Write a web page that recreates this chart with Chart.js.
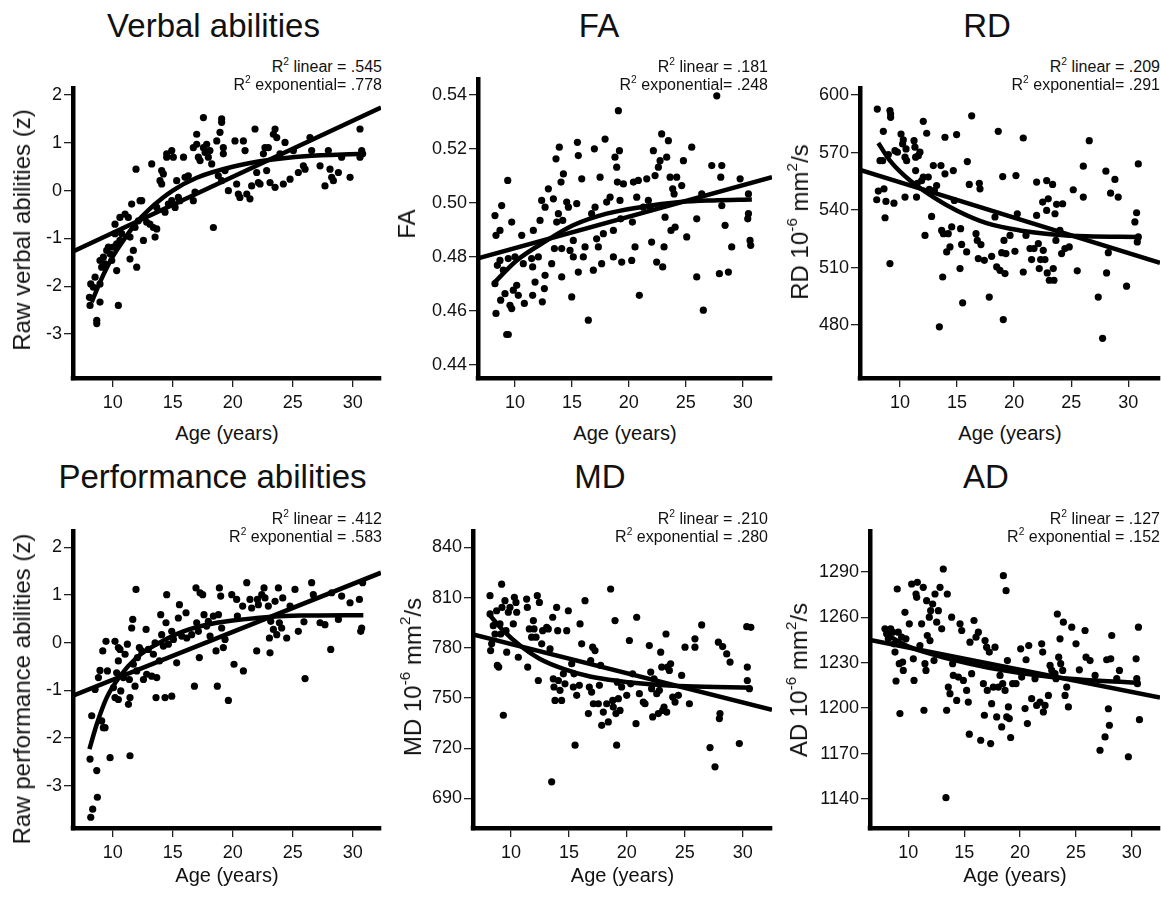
<!DOCTYPE html>
<html>
<head>
<meta charset="utf-8">
<script src="https://cdn.jsdelivr.net/npm/chart.js@4.4.0/dist/chart.umd.min.js"></script>
<style>
body { margin: 0; background: #fff; }
#fig { position: relative; width: 1161px; height: 898px; overflow: hidden; font-family: "Liberation Sans", Arial, sans-serif; color: #111; }
#fig canvas { position: absolute; }
.t { position: absolute; white-space: nowrap; line-height: 1; }
.t sup { font-size: 0.64em; vertical-align: baseline; position: relative; top: -0.7em; line-height: 0; }
</style>
</head>
<body>
<div id="fig"></div>
<script>
// tick labels
var ageTicks = [10, 15, 20, 25, 30];
var verbalTicks = [-3, -2, -1, 0, 1, 2];
var perfTicks = [-3, -2, -1, 0, 1, 2];
var faTicks = [0.44, 0.46, 0.48, 0.50, 0.52, 0.54];
var rdTicks = [480, 510, 540, 570, 600];
var mdTicks = [690, 720, 750, 780, 810, 840];
var adTicks = [1140, 1170, 1200, 1230, 1260, 1290];

// [age, value] per subject
var verbalPts = [[8.11,-2.40],[8.06,-2.23],[8.17,-1.95],[8.53,-1.81],[8.39,-2.02],[8.67,-2.71],[8.67,-2.78],[8.94,-2.33],[8.94,-1.95],[9.08,-1.60],[8.94,-1.46],[9.22,-1.39],[9.36,-1.53],[9.5,-1.25],[9.64,-1.18],[9.78,-1.32],[9.92,-1.46],[10.05,-1.18],[10.19,-0.90],[10.19,-0.70],[10.33,-1.11],[10.33,-1.67],[10.47,-2.40],[10.6,-1.04],[10.6,-0.56],[10.75,-0.90],[11.03,-0.49],[11.3,-0.56],[11.44,-0.97],[11.44,-1.43],[11.58,-0.28],[11.72,-1.25],[11.86,-0.77],[12.0,-1.60],[11.94,0.45],[12.14,-0.63],[12.28,-0.21],[12.42,-0.21],[12.56,-1.04],[12.83,-0.66],[13.1,-0.70],[13.25,0.56],[13.39,-0.77],[13.53,-0.97],[13.67,-0.35],[13.67,-0.80],[13.94,0.21],[14.08,0.42],[14.08,0.14],[14.22,0.35],[14.36,-0.45],[14.5,0.77],[14.5,0.70],[14.64,-0.28],[14.92,0.84],[14.92,-0.21],[15.05,0.70],[15.2,-0.35],[15.33,0.21],[15.47,-0.14],[15.6,-0.21],[15.9,0.70],[16.03,0.28],[16.3,0.31],[16.72,-0.21],[16.72,0.90],[16.86,-0.03],[17.0,1.18],[17.0,0.97],[17.14,0.70],[17.28,0.63],[17.56,1.53],[17.56,0.90],[17.7,0.80],[17.83,0.97],[17.97,0.70],[18.1,0.84],[18.25,0.56],[18.39,-0.77],[18.67,1.04],[18.8,0.31],[18.94,1.22],[19.08,1.50],[19.08,1.43],[19.22,0.90],[19.22,0.77],[19.36,0.42],[19.08,0.21],[19.64,0.0],[20.19,1.04],[20.33,0.14],[20.47,-0.07],[20.6,-0.14],[20.89,1.04],[21.03,0.84],[21.17,-0.07],[21.44,-0.17],[21.58,0.10],[21.86,1.29],[22.0,0.38],[22.14,0.17],[22.28,0.14],[22.56,0.77],[22.69,0.90],[22.83,0.42],[22.97,0.90],[23.11,0.17],[23.39,1.18],[23.53,1.29],[23.53,0.07],[23.67,1.11],[23.94,0.77],[24.22,0.14],[24.36,1.01],[24.78,0.24],[25.06,0.84],[25.47,0.38],[25.89,0.52],[26.03,0.45],[26.44,1.11],[26.58,0.84],[27.28,0.52],[27.69,0.10],[27.97,0.84],[28.11,0.45],[28.25,0.28],[28.39,0.21],[28.81,0.38],[29.08,0.70],[29.78,0.28],[30.61,1.29],[30.75,0.84],[30.61,0.70],[30.83,0.77]];
var verbalLin = [[6.69,-1.27],[32.36,1.74]];
var verbalExp = [[8.25,-2.33],[9,-1.88],[10,-1.38],[11,-1.0],[12,-0.66],[13,-0.40],[15,0.0],[17,0.27],[20,0.50],[23,0.64],[26,0.72],[30.8,0.77]];

var faPts = [[8.24,0.4953],[8.33,0.4880],[8.45,0.4769],[8.24,0.4701],[8.33,0.4591],[8.68,0.4898],[8.83,0.4990],[8.68,0.4787],[8.74,0.4640],[8.98,0.4751],[9.12,0.4664],[9.27,0.4513],[9.41,0.4513],[9.36,0.5083],[9.41,0.4794],[9.56,0.4621],[9.71,0.4929],[9.71,0.4609],[9.85,0.4677],[10.0,0.4800],[10.15,0.4695],[10.29,0.4658],[10.59,0.4880],[10.73,0.4775],[10.82,0.4628],[11.46,0.4794],[11.55,0.4763],[11.55,0.4658],[11.61,0.4898],[11.76,0.4707],[12.05,0.4800],[12.2,0.4935],[12.34,0.5009],[12.40,0.4634],[12.58,0.4683],[12.64,0.4732],[12.64,0.4984],[12.93,0.5052],[13.22,0.4775],[13.37,0.5015],[13.46,0.4831],[13.6,0.5163],[13.66,0.4929],[13.81,0.4960],[13.89,0.5206],[14.04,0.5077],[14.1,0.4831],[14.1,0.4726],[14.19,0.4935],[14.25,0.5107],[14.54,0.5003],[14.69,0.4984],[14.83,0.4824],[14.98,0.4652],[15.12,0.4861],[15.12,0.4800],[15.42,0.4997],[15.48,0.5224],[15.56,0.5175],[15.56,0.4744],[15.86,0.5089],[16.0,0.4800],[16.15,0.4837],[16.44,0.4566],[16.73,0.4960],[16.88,0.4751],[16.97,0.5200],[17.03,0.4984],[17.17,0.4867],[17.32,0.4837],[17.47,0.5095],[17.61,0.4775],[17.76,0.4886],[17.91,0.5236],[18.05,0.5003],[18.35,0.5021],[18.64,0.4800],[18.64,0.4898],[18.78,0.5169],[18.93,0.5132],[18.99,0.5077],[19.08,0.5341],[19.17,0.5193],[19.22,0.5009],[19.28,0.4941],[19.37,0.4781],[19.52,0.5070],[20.25,0.4787],[20.31,0.4929],[20.4,0.5077],[20.54,0.4837],[20.69,0.5021],[20.83,0.5083],[20.92,0.4658],[21.27,0.4984],[21.57,0.5089],[21.71,0.5009],[21.86,0.4984],[22.0,0.4855],[22.15,0.5193],[22.3,0.5101],[22.44,0.4781],[22.59,0.5132],[22.74,0.5156],[22.88,0.5255],[22.97,0.4763],[23.09,0.4837],[23.18,0.4947],[23.32,0.5169],[23.47,0.5230],[23.62,0.5095],[23.7,0.4898],[23.85,0.5052],[23.97,0.5033],[24.06,0.4910],[24.2,0.5095],[24.64,0.5064],[24.79,0.5156],[25.08,0.4874],[25.52,0.5206],[25.96,0.4941],[25.96,0.4726],[26.4,0.5033],[26.54,0.4603],[27.28,0.5138],[27.72,0.5396],[27.95,0.4738],[28.16,0.5138],[28.07,0.5095],[28.16,0.4990],[28.45,0.4917],[28.74,0.4744],[29.03,0.4837],[29.77,0.5089],[30.5,0.5033],[30.44,0.4941],[30.5,0.4960],[30.64,0.4861],[30.7,0.4843]];
var faLin = [[6.75,0.4795],[32.57,0.5095]];
var faExp = [[8.1,0.4701],[10.15,0.4787],[12.8,0.4861],[15.1,0.4917],[18.05,0.4960],[21,0.4984],[24.5,0.5003],[27.4,0.5009],[30.8,0.5012]];

var rdPts = [[8.01,592.7],[7.96,545.4],[8.1,549.9],[8.25,565.8],[8.48,565.8],[8.54,581.1],[8.6,551.1],[8.69,536.0],[8.77,544.5],[8.98,569.0],[9.12,512.1],[9.12,591.9],[9.18,590.1],[9.18,588.4],[9.47,543.6],[9.56,571.0],[9.77,570.2],[10.09,579.7],[10.23,574.5],[10.29,576.6],[10.44,546.8],[10.44,567.6],[10.53,571.9],[10.58,565.8],[11.23,576.2],[11.31,572.8],[11.37,567.6],[11.37,560.6],[11.45,546.8],[11.52,554.0],[11.61,568.4],[11.75,570.2],[11.9,555.4],[12.04,586.3],[12.04,557.2],[12.19,526.8],[12.34,580.1],[12.48,557.2],[12.57,550.8],[12.77,536.7],[12.92,563.2],[13.01,550.2],[13.21,552.8],[13.45,479.1],[13.59,563.2],[13.65,529.4],[13.74,505.1],[13.8,527.7],[13.94,578.0],[13.94,558.9],[14.09,518.2],[14.23,527.7],[14.38,520.8],[14.53,531.2],[14.67,560.6],[14.76,545.0],[14.96,579.4],[15.26,509.5],[15.31,530.3],[15.4,522.1],[15.49,491.6],[15.84,518.2],[15.9,565.3],[16.07,553.4],[16.28,589.2],[16.66,527.7],[16.77,524.2],[16.86,514.7],[16.95,554.0],[17.01,551.1],[17.09,522.0],[17.39,513.8],[17.82,494.6],[18.03,515.9],[18.32,536.4],[18.47,510.4],[18.61,581.1],[18.76,508.6],[18.91,517.8],[19.0,557.5],[19.05,482.9],[19.11,524.2],[19.2,506.9],[19.28,517.3],[19.64,526.8],[20.07,518.5],[20.16,558.0],[20.28,538.1],[20.8,577.6],[20.8,507.7],[21.04,526.8],[21.39,519.9],[21.53,514.2],[21.74,519.9],[21.97,537.2],[21.97,554.6],[22.12,522.5],[22.2,509.5],[22.32,514.2],[22.5,544.2],[22.55,519.0],[22.7,514.2],[22.85,555.4],[22.85,539.8],[22.9,507.2],[22.99,545.9],[23.08,503.4],[23.37,553.4],[23.43,509.5],[23.49,503.4],[23.58,538.1],[23.66,524.2],[23.72,543.0],[24.01,529.4],[24.16,517.3],[24.25,543.3],[24.45,519.9],[24.83,520.8],[25.18,550.6],[25.53,508.3],[26.06,546.8],[26.06,562.9],[26.58,576.2],[27.37,494.6],[27.75,473.1],[28.04,560.3],[28.1,507.2],[28.25,517.8],[28.45,548.8],[28.83,556.0],[29.12,546.8],[29.85,500.3],[30.58,533.8],[30.73,538.6],[30.88,564.1],[30.79,523.4],[30.88,526.0]];
var rdLin = [[6.5,561],[32.78,512.5]];
var rdExp = [[8.1,575],[9.12,565.8],[10.88,555.4],[12.92,546.8],[14.96,539.8],[17.59,533.2],[20.5,529.4],[23.43,527.3],[26.35,526.3],[30.8,526.0]];

var perfPts = [[8.17,-3.66],[8.33,-3.49],[8.11,-2.44],[8.25,-1.53],[8.53,-0.98],[8.67,-2.68],[8.72,-3.24],[8.81,-0.73],[8.94,-0.58],[9.08,-1.64],[9.17,-0.17],[9.22,-1.78],[9.36,-1.78],[9.44,0.03],[9.56,-0.59],[9.78,-2.41],[10.06,-0.94],[10.19,0.03],[10.19,-1.15],[10.33,-0.63],[10.47,-0.10],[10.47,-0.38],[10.47,-1.19],[10.61,-0.14],[10.67,-1.01],[10.89,-0.73],[11.03,-0.24],[11.22,-0.03],[11.31,-1.29],[11.39,-0.77],[11.44,-2.37],[11.44,-1.15],[11.58,0.31],[11.67,0.49],[11.72,-0.45],[11.86,-0.91],[11.94,1.12],[12.0,-0.59],[12.06,-0.31],[12.22,-0.10],[12.42,-0.17],[12.56,-0.77],[12.78,0.28],[12.83,-0.66],[12.97,-0.14],[13.25,-0.70],[13.39,-0.24],[13.53,0.0],[13.61,-1.15],[13.67,-0.73],[13.89,-0.38],[14.0,0.59],[14.08,0.17],[14.22,-0.07],[14.36,-1.15],[14.44,0.42],[14.5,1.01],[14.64,-0.03],[14.92,-1.12],[14.92,0.24],[15.06,0.07],[15.33,-0.42],[15.47,0.52],[15.56,0.80],[15.75,0.14],[16.11,0.63],[16.17,0.10],[16.58,0.17],[16.81,-0.91],[16.94,1.15],[17.0,0.42],[17.14,0.24],[17.22,-0.31],[17.28,1.05],[17.5,1.01],[17.61,0.59],[17.83,0.35],[17.97,0.45],[18.11,0.14],[18.39,0.56],[18.61,-0.17],[18.72,-0.91],[18.81,0.59],[18.89,1.15],[19.0,0.98],[19.08,0.31],[19.22,-0.10],[19.36,0.07],[19.64,-1.21],[19.92,1.01],[20.11,-0.45],[20.33,0.91],[20.39,0.56],[20.89,-0.59],[20.83,0.77],[21.17,1.26],[21.44,0.91],[21.58,0.73],[22.0,-0.17],[22.06,0.91],[22.14,0.80],[22.42,1.01],[22.61,1.15],[22.69,0.94],[22.97,0.77],[23.06,0.10],[23.11,-0.21],[23.17,0.45],[23.39,0.28],[23.53,0.87],[23.67,0.17],[23.81,1.15],[23.89,0.42],[24.08,0.31],[24.17,0.94],[24.5,0.10],[24.78,0.77],[25.19,1.12],[25.47,0.24],[25.94,0.44],[26.03,-0.75],[26.58,1.26],[26.72,1.01],[27.28,0.42],[27.69,0.38],[28.17,-0.14],[28.25,1.05],[28.81,0.49],[29.08,0.98],[29.78,0.84],[30.56,0.91],[30.67,0.24],[30.75,0.31],[30.83,1.26]];
var perfLin = [[6.69,-1.11],[32.36,1.47]];
var perfExp = [[8.06,-2.23],[8.67,-1.71],[9.5,-1.15],[10.61,-0.70],[12.0,-0.31],[13.67,-0.03],[15.89,0.24],[18.67,0.42],[22.0,0.52],[25.61,0.57],[30.89,0.58]];

var mdPts = [[8.19,811.2],[8.19,800.3],[8.24,778.4],[8.33,782.4],[8.47,793.3],[8.62,788.3],[8.76,802.2],[8.82,769.5],[8.94,768.5],[9.05,794.3],[9.19,818.1],[9.11,788.3],[9.22,804.2],[9.34,739.7],[9.48,808.2],[9.57,790.3],[9.63,777.4],[9.77,801.3],[9.91,804.2],[10.2,794.3],[10.29,810.2],[10.43,807.2],[10.49,801.3],[10.63,774.4],[11.35,809.2],[11.41,804.2],[11.44,768.5],[11.58,791.3],[11.64,778.4],[11.78,786.4],[11.93,796.3],[11.99,791.3],[12.16,786.4],[12.27,811.2],[12.45,807.2],[12.36,760.5],[12.65,782.4],[12.73,790.3],[13.08,792.3],[13.22,791.3],[13.37,779.4],[13.51,699.9],[13.6,798.3],[13.65,761.5],[13.71,756.6],[13.8,748.6],[13.94,804.2],[14.03,790.3],[14.09,760.5],[14.23,754.6],[14.37,748.6],[14.52,764.5],[14.66,758.5],[14.81,790.3],[14.95,802.2],[15.24,770.5],[15.38,756.6],[15.44,764.5],[15.53,721.8],[15.67,751.6],[15.9,757.6],[15.96,794.3],[16.1,782.4],[16.39,808.2],[16.68,740.7],[16.76,756.6],[16.88,772.4],[16.96,753.6],[17.05,780.4],[17.11,746.6],[17.25,778.4],[17.54,746.6],[17.63,757.6],[17.74,769.5],[17.83,733.7],[17.97,741.6],[18.26,746.6],[18.4,735.7],[18.6,815.2],[18.78,748.6],[18.83,744.6],[18.98,796.3],[19.06,740.7],[19.12,721.8],[19.18,759.5],[19.27,749.6],[19.41,742.6],[19.55,756.6],[19.99,751.6],[20.22,784.4],[20.33,758.5],[20.5,764.5],[20.79,734.7],[20.85,798.3],[21.08,752.6],[21.42,747.6],[21.57,746.6],[21.94,781.4],[22.06,765.5],[22.14,755.6],[22.23,738.7],[22.35,761.5],[22.58,752.6],[22.72,740.7],[22.81,754.6],[22.92,777.4],[23.01,768.5],[23.09,742.6],[23.21,744.6],[23.38,788.3],[23.44,741.6],[23.5,768.5],[23.67,766.5],[23.78,770.5],[23.96,750.6],[24.16,747.6],[24.45,751.6],[24.73,763.5],[25.4,746.6],[25.02,780.4],[25.88,780.4],[25.88,785.4],[26.46,793.7],[27.18,720.4],[27.61,708.9],[27.9,783.4],[27.99,737.7],[28.04,740.7],[28.27,780.8],[28.62,776.4],[28.91,771.5],[29.71,722.8],[30.35,792.7],[30.4,768.5],[30.4,760.5],[30.58,755.6],[30.7,792.3]];
var mdLin = [[6.72,788],[32.53,743]];
var mdExp = [[8.19,799.3],[9.34,790.3],[10.78,781.4],[12.5,773.4],[14.52,767.5],[16.82,762.9],[19.41,760.1],[22.29,758.1],[25.17,757.0],[30.7,756.2]];

var adPts = [[7.91,1252.3],[8.06,1249.0],[8.21,1245.7],[8.42,1252.3],[8.6,1250.1],[8.72,1242.4],[8.81,1237.0],[8.9,1217.9],[9.01,1278.6],[9.1,1250.1],[9.19,1229.3],[9.25,1196.4],[9.4,1246.8],[9.49,1230.4],[9.55,1224.9],[9.7,1263.2],[9.79,1245.7],[10.09,1255.6],[10.3,1281.9],[10.45,1232.5],[10.51,1218.3],[10.69,1275.3],[10.75,1273.1],[10.81,1283.0],[11.04,1241.3],[11.19,1255.6],[11.34,1279.7],[11.4,1198.6],[11.49,1229.3],[11.58,1224.9],[11.64,1270.9],[11.7,1247.9],[11.88,1260.0],[11.94,1244.6],[12.0,1264.3],[12.18,1268.7],[12.3,1231.4],[12.39,1275.3],[12.54,1256.7],[12.69,1264.3],[12.84,1279.7],[12.99,1252.3],[13.13,1291.8],[13.37,1140.9],[13.43,1198.6],[13.49,1275.3],[13.58,1213.9],[13.73,1209.5],[13.88,1260.0],[13.97,1229.3],[14.03,1221.6],[14.33,1205.1],[14.48,1220.5],[14.63,1255.6],[14.78,1251.2],[14.93,1218.3],[15.22,1211.7],[15.37,1204.0],[15.46,1182.8],[15.52,1243.5],[15.67,1222.7],[15.88,1257.8],[16.06,1246.8],[16.27,1250.1],[16.48,1178.8],[16.72,1216.1],[16.81,1195.3],[16.87,1244.6],[17.01,1240.2],[17.07,1211.7],[17.25,1237.0],[17.37,1176.6],[17.46,1202.9],[17.61,1213.9],[17.76,1240.2],[17.91,1194.2],[18.06,1213.9],[18.21,1221.6],[18.36,1187.6],[18.45,1216.1],[18.51,1287.4],[18.66,1211.7],[18.75,1277.5],[18.81,1194.2],[18.87,1231.4],[18.96,1200.8],[19.04,1193.1],[19.16,1180.6],[19.34,1216.1],[19.64,1216.1],[20.06,1239.1],[20.15,1220.5],[20.3,1223.8],[20.45,1199.7],[20.54,1231.9],[20.66,1189.8],[20.78,1241.3],[21.04,1206.2],[21.34,1219.4],[21.49,1201.8],[21.79,1204.0],[21.94,1242.4],[22.03,1237.0],[22.09,1197.5],[22.24,1201.8],[22.54,1208.4],[22.69,1228.2],[22.84,1224.9],[23.13,1222.7],[23.22,1219.4],[23.34,1262.1],[23.46,1233.6],[23.58,1245.7],[23.64,1229.3],[23.82,1224.9],[23.88,1256.7],[24.03,1208.4],[24.18,1213.9],[24.33,1200.8],[24.63,1253.4],[25.01,1242.4],[25.31,1225.3],[25.82,1251.2],[25.91,1233.6],[26.27,1231.4],[26.72,1221.6],[27.16,1172.2],[27.61,1181.0],[27.76,1231.9],[27.91,1199.6],[28.0,1188.7],[28.12,1232.5],[28.21,1247.9],[28.9,1224.9],[28.66,1219.4],[29.7,1167.9],[30.39,1232.5],[30.45,1219.4],[30.51,1216.1],[30.6,1253.4],[30.69,1192.4]];
var adLin = [[6.57,1245],[32.53,1207]];
var adExp = [[8.2,1247.9],[10.15,1240.2],[12.54,1234.7],[15.52,1229.3],[18.51,1224.9],[21.49,1221.6],[24.48,1219.4],[27.46,1217.9],[30.75,1216.8]];

var R2 = 'R<sup>2</sup>';
var unit = ' 10<sup>-6</sup> mm<sup>2</sup>/s';

// layout: box = plot area [left, top, right, bottom] in page pixels
var panels = [
  { title: 'Verbal abilities', ylab: 'Raw verbal abilities (z)', r2: [R2 + ' linear = .545', R2 + ' exponential= .778'],
    pts: verbalPts, lin: verbalLin, exp: verbalExp, yTicks: verbalTicks, dec: 0,
    box: [73, 87, 381, 378], xr: [6.69, 32.36], yr: [-3.918, 2.152],
    tx: 213.5, ty: 37, lx: 30.5, ly: 230, rx: 382, ry: 73, ay: 440 },
  { title: 'FA', ylab: 'FA', r2: [R2 + ' linear = .181', R2 + ' exponential= .248'],
    pts: faPts, lin: faLin, exp: faExp, yTicks: faTicks, dec: 2,
    box: [478, 78, 772, 378], xr: [6.75, 32.57], yr: [0.4352, 0.5459],
    tx: 599, ty: 37, lx: 415, ly: 224, rx: 768, ry: 73, ay: 440 },
  { title: 'RD', ylab: 'RD' + unit, r2: [R2 + ' linear = .209', R2 + ' exponential= .291'],
    pts: rdPts, lin: rdLin, exp: rdExp, yTicks: rdTicks, dec: 0,
    box: [860, 87, 1160, 378], xr: [6.496, 32.78], yr: [452.4, 603.8],
    tx: 987, ty: 37, lx: 808, ly: 222, rx: 1160, ry: 73, ay: 440 },
  { title: 'Performance abilities', ylab: 'Raw performance abilities (z)', r2: [R2 + ' linear = .412', R2 + ' exponential = .583'],
    pts: perfPts, lin: perfLin, exp: perfExp, yTicks: perfTicks, dec: 0,
    box: [73, 530, 381, 828], xr: [6.69, 32.36], yr: [-3.885, 2.349],
    tx: 212.5, ty: 488, lx: 30.5, ly: 689, rx: 382, ry: 525, ay: 882 },
  { title: 'MD', ylab: 'MD' + unit, r2: [R2 + ' linear = .210', R2 + ' exponential = .280'],
    pts: mdPts, lin: mdLin, exp: mdExp, yTicks: mdTicks, dec: 0,
    box: [473, 530, 772, 828], xr: [6.72, 32.53], yr: [672.3, 850],
    tx: 600, ty: 488, lx: 421, ly: 677, rx: 768, ry: 525, ay: 882 },
  { title: 'AD', ylab: 'AD' + unit, r2: [R2 + ' linear = .127', R2 + ' exponential = .152'],
    pts: adPts, lin: adLin, exp: adExp, yTicks: adTicks, dec: 0,
    box: [870, 530, 1160, 828], xr: [6.571, 32.53], yr: [1120.9, 1317],
    tx: 986, ty: 488, lx: 807, ly: 680, rx: 1160, ry: 525, ay: 882 }
];

var fig = document.getElementById('fig');
var FONT = '"Liberation Sans", Arial, sans-serif';
var AXIS_W = 4.5;

function addText(html, x, base, size, align) {
  var d = document.createElement('div');
  d.className = 't';
  d.innerHTML = html;
  d.style.fontSize = size + 'px';
  d.style.left = x + 'px';
  d.style.top = (base - 0.8465 * size) + 'px';
  var tx = align == 'center' ? '-50%' : (align == 'right' ? '-100%' : '0');
  d.style.transform = 'translateX(' + tx + ')';
  fig.appendChild(d);
}

// rotated label, baseX = x of the text baseline
function addVText(html, baseX, cy, size) {
  var d = document.createElement('div');
  d.className = 't';
  d.innerHTML = html;
  d.style.fontSize = size + 'px';
  d.style.left = (baseX - 0.3465 * size) + 'px';
  d.style.top = cy + 'px';
  d.style.transform = 'translate(-50%,-50%) rotate(-90deg)';
  fig.appendChild(d);
}

function toXY(arr) {
  return arr.map(function (a) { return { x: a[0], y: a[1] }; });
}

// fills the small gap where the two thick axis lines meet
var cornerPlugin = {
  id: 'corner',
  afterDraw: function (chart) {
    var a = chart.chartArea, ctx = chart.ctx;
    ctx.save();
    ctx.fillStyle = '#000';
    ctx.fillRect(a.left - AXIS_W / 2, a.bottom - AXIS_W / 2, AXIS_W, AXIS_W);
    ctx.restore();
  }
};

function DrawPanel(p) {
  var padL = 70, padT = 12, padR = 4, padB = 44;
  var b = p.box;
  var w = b[2] - b[0] + padL + padR;
  var h = b[3] - b[1] + padT + padB;
  var cv = document.createElement('canvas');
  cv.width = w; cv.height = h;
  cv.style.left = (b[0] - padL) + 'px';
  cv.style.top = (b[1] - padT) + 'px';
  cv.style.width = w + 'px';
  cv.style.height = h + 'px';
  fig.appendChild(cv);

  var tickFont = { family: FONT, size: 18 };

  new Chart(cv.getContext('2d'), {
    type: 'scatter',
    data: {
      datasets: [
        { data: toXY(p.pts), pointRadius: 3.6, pointHoverRadius: 3.6, backgroundColor: '#000', borderColor: '#000', borderWidth: 0 },
        { data: toXY(p.lin), showLine: true, pointRadius: 0, borderColor: '#000', borderWidth: 4.5, tension: 0 },
        { data: toXY(p.exp), showLine: true, pointRadius: 0, borderColor: '#000', borderWidth: 4.5, cubicInterpolationMode: 'monotone' }
      ]
    },
    options: {
      responsive: false,
      animation: false,
      events: [],
      devicePixelRatio: 1,
      layout: { padding: { left: 0, top: padT, right: padR, bottom: 0 } },
      plugins: { legend: { display: false }, tooltip: { enabled: false } },
      scales: {
        x: {
          type: 'linear', min: p.xr[0], max: p.xr[1],
          afterFit: function (s) { s.height = padB; },
          afterBuildTicks: function (s) { s.ticks = ageTicks.map(function (v) { return { value: v }; }); },
          ticks: { font: tickFont, color: '#111', padding: 5, maxRotation: 0, autoSkip: false,
                   callback: function (v) { return String(v); } },
          grid: { drawOnChartArea: false, drawTicks: true, tickLength: 9, color: '#222', lineWidth: 1.3 },
          border: { display: true, color: '#000', width: AXIS_W }
        },
        y: {
          type: 'linear', min: p.yr[0], max: p.yr[1],
          afterFit: function (s) { s.width = padL; },
          afterBuildTicks: function (s) { s.ticks = p.yTicks.map(function (v) { return { value: v }; }); },
          ticks: { font: tickFont, color: '#111', padding: 2, autoSkip: false,
                   callback: function (v) { return v.toFixed(p.dec); } },
          grid: { drawOnChartArea: false, drawTicks: true, tickLength: 9, color: '#222', lineWidth: 1.3 },
          border: { display: true, color: '#000', width: AXIS_W }
        }
      }
    },
    plugins: [cornerPlugin]
  });

  addText(p.title, p.tx, p.ty, 33, 'center');
  addVText(p.ylab, p.lx, p.ly, 24);
  addText(p.r2[0], p.rx, p.ry, 16, 'right');
  addText(p.r2[1], p.rx, p.ry + 18, 16, 'right');
  addText('Age (years)', (b[0] + b[2]) / 2, p.ay, 20, 'center');
}

panels.forEach(DrawPanel);
</script>
</body>
</html>
